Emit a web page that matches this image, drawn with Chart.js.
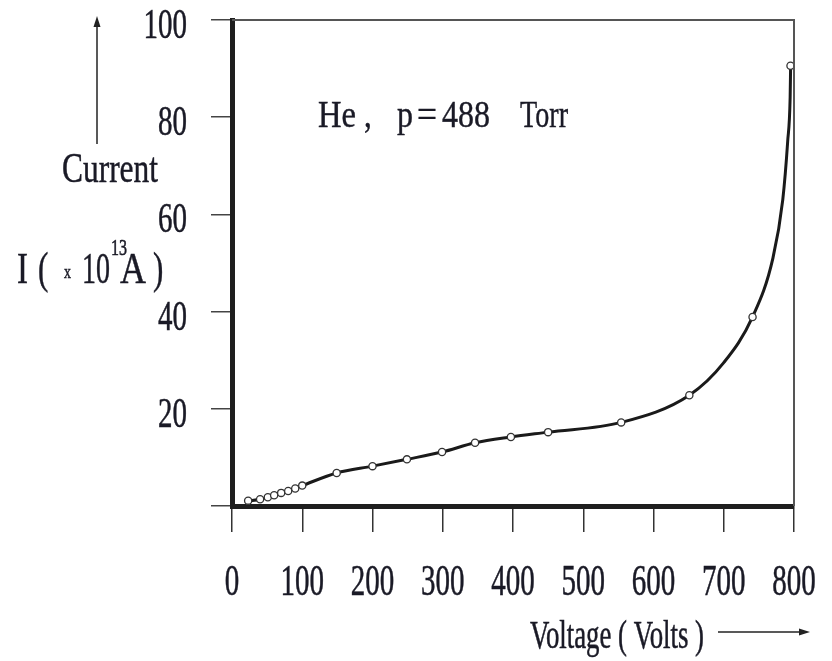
<!DOCTYPE html>
<html>
<head>
<meta charset="utf-8">
<title>He discharge current vs voltage</title>
<script src="https://cdn.jsdelivr.net/npm/chart.js@4.4.1/dist/chart.umd.min.js"></script>
<style>
  html, body { margin: 0; padding: 0; background: #fff; }
  #wrap { width: 832px; height: 661px; }
</style>
</head>
<body>
<div id="wrap"><canvas id="c" width="832" height="661"></canvas></div>
<script>
// Measured points: applied voltage (V) and current (x10^13 A)
const voltage = [23, 40, 51, 60, 70, 80, 90, 100, 149, 200, 249, 299, 346, 397, 450, 554, 651, 741, 795];
const current = [1.1, 1.4, 1.8, 2.2, 2.7, 3.1, 3.6, 4.2, 6.8, 8.2, 9.6, 11.1, 13.0, 14.2, 15.2, 17.2, 22.8, 38.9, 90.6];

// Hand-drawn trend curve through the measurements
const curveVoltage = [23, 40, 60, 80, 100, 149, 200, 249, 299, 346, 397, 450, 554, 651, 700, 741, 770, 784, 791, 794.5, 795.2];
const curveCurrent = [1.0, 1.4, 2.2, 3.1, 4.2, 6.8, 8.2, 9.6, 11.1, 13.0, 14.2, 15.2, 17.2, 22.8, 29.5, 38.9, 51.0, 63.0, 75.0, 84.0, 90.6];

// Axis tick labels
const xTickLabels = [0, 100, 200, 300, 400, 500, 600, 700, 800];
const yTickLabels = [20, 40, 60, 80, 100];

const INK = '#1a1a26';
const SERIF = '"Liberation Serif", "Times New Roman", serif';

// Draws text with a tall, narrow serif look; w (optional) forces the width
function tallText(ctx, txt, x, baseline, size, sy, align, w) {
  ctx.save();
  ctx.font = size + 'px ' + SERIF;
  const mw = ctx.measureText(txt).width;
  const sx = w ? w / mw : 1;
  let left = x;
  if (align === 'center') left = x - mw * sx / 2;
  else if (align === 'right') left = x - mw * sx;
  ctx.translate(left, baseline);
  ctx.scale(sx, sy);
  ctx.textAlign = 'left';
  ctx.textBaseline = 'alphabetic';
  ctx.fillStyle = INK;
  ctx.strokeStyle = INK;
  ctx.lineWidth = 0.35;
  ctx.fillText(txt, 0, 0);
  ctx.strokeText(txt, 0, 0);
  ctx.restore();
}

function arrowHead(ctx, tipX, tipY, dir) {
  ctx.beginPath();
  if (dir === 'right') {
    ctx.moveTo(tipX, tipY);
    ctx.lineTo(tipX - 11, tipY - 3.5);
    ctx.lineTo(tipX - 11, tipY + 3.5);
  } else {
    ctx.moveTo(tipX, tipY);
    ctx.lineTo(tipX - 3.5, tipY + 11);
    ctx.lineTo(tipX + 3.5, tipY + 11);
  }
  ctx.closePath();
  ctx.fill();
}

const decorations = {
  id: 'decorations',
  afterDraw(chart) {
    const ctx = chart.ctx;
    const area = chart.chartArea;
    const xs = chart.scales.x, ys = chart.scales.y;

    // thin frame on top and right
    ctx.save();
    ctx.strokeStyle = '#555';
    ctx.lineWidth = 2;
    ctx.beginPath();
    ctx.moveTo(area.left, area.top);
    ctx.lineTo(area.right, area.top);
    ctx.lineTo(area.right, area.bottom);
    ctx.stroke();
    ctx.restore();

    // tick labels
    xTickLabels.forEach(v => {
      tallText(ctx, String(v), xs.getPixelForValue(v), 595, 29, 1.5, 'center');
    });
    yTickLabels.forEach(v => {
      tallText(ctx, String(v), 187, ys.getPixelForValue(v) + 18, 29, 1.45, 'right');
    });

    // annotation
    tallText(ctx, 'He', 318, 127, 31, 1.22, 'left', 38);
    tallText(ctx, ',', 364, 127, 31, 1.22, 'left');
    tallText(ctx, 'p', 397, 127, 31, 1.22, 'left', 16);
    tallText(ctx, '=', 417, 127, 31, 1.22, 'left', 20);
    tallText(ctx, '488', 442, 127, 31, 1.22, 'left', 48);
    tallText(ctx, 'Torr', 520, 127, 31, 1.22, 'left', 48);

    // y axis title
    tallText(ctx, 'Current', 62, 182, 31, 1.35, 'left', 96);
    tallText(ctx, 'I', 17, 283, 31, 1.4, 'left', 11);
    tallText(ctx, '(', 38, 283, 31, 1.4, 'left');
    tallText(ctx, 'x', 64, 278, 14, 1.3, 'left');
    tallText(ctx, '10', 82, 283, 31, 1.4, 'left', 28);
    tallText(ctx, '13', 111, 255, 15, 1.6, 'left', 16);
    tallText(ctx, 'A', 120, 283, 31, 1.4, 'left', 26);
    tallText(ctx, ')', 153, 283, 31, 1.4, 'left');

    // x axis title
    tallText(ctx, 'Voltage ( Volts )', 530, 648, 26, 1.5, 'left', 174);

    // direction arrows
    ctx.save();
    ctx.strokeStyle = '#222';
    ctx.fillStyle = '#222';
    ctx.lineWidth = 1.5;
    ctx.beginPath();
    ctx.moveTo(718, 632);
    ctx.lineTo(800, 632);
    ctx.stroke();
    arrowHead(ctx, 810, 632, 'right');
    ctx.beginPath();
    ctx.moveTo(97, 144);
    ctx.lineTo(97, 26);
    ctx.stroke();
    arrowHead(ctx, 97, 16, 'up');
    ctx.restore();
  }
};

const ctx = document.getElementById('c').getContext('2d');
new Chart(ctx, {
  type: 'scatter',
  data: {
    datasets: [
      {
        type: 'line',
        label: 'trend',
        data: curveVoltage.map((v, i) => ({ x: v, y: curveCurrent[i] })),
        borderColor: '#1a1a1a',
        borderWidth: 3,
        pointRadius: 0,
        cubicInterpolationMode: 'monotone',
        fill: false,
        order: 2
      },
      {
        label: 'measured',
        data: voltage.map((v, i) => ({ x: v, y: current[i] })),
        showLine: false,
        pointRadius: 3.6,
        pointBackgroundColor: '#ffffff',
        pointBorderColor: '#333333',
        pointBorderWidth: 1.3,
        clip: false,
        order: 1
      }
    ]
  },
  options: {
    responsive: false,
    animation: false,
    layout: { padding: { top: 20, right: 38, left: 0, bottom: 0 } },
    plugins: { legend: { display: false }, tooltip: { enabled: false } },
    scales: {
      x: {
        type: 'linear',
        min: 0,
        max: 800,
        afterFit: s => { s.height = 155; },
        ticks: { display: false, stepSize: 100 },
        grid: { drawOnChartArea: false, drawTicks: true, tickLength: 26, color: '#333', lineWidth: 1.5 },
        border: { display: true, width: 5, color: '#1e1e1e' }
      },
      y: {
        type: 'linear',
        min: 0,
        max: 100,
        afterFit: s => { s.width = 232; },
        ticks: { display: false, stepSize: 20 },
        grid: { drawOnChartArea: false, drawTicks: true, tickLength: 21, color: '#444', lineWidth: 1.5 },
        border: { display: true, width: 5, color: '#1e1e1e' }
      }
    }
  },
  plugins: [decorations]
});
</script>
</body>
</html>
